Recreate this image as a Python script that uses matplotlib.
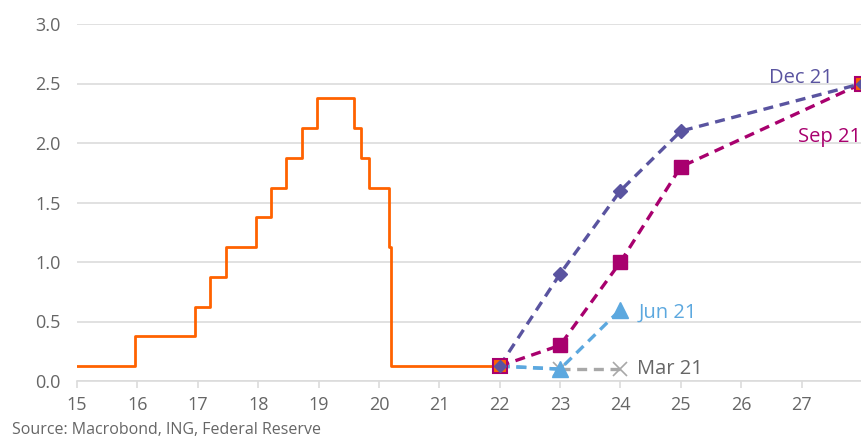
import numpy as np
import matplotlib
matplotlib.use("Agg")
import matplotlib.pyplot as plt

plt.rcParams["font.family"] = ["Open Sans", "DejaVu Sans"]

# Fed funds target midpoint (step changes), x in years since 2000
fed_x = [15.0, 15.96, 16.96, 17.21, 17.46, 17.96, 18.21, 18.46, 18.73, 18.97,
         19.58, 19.71, 19.83, 20.17, 20.2, 22.0]
fed_y = [0.125, 0.375, 0.625, 0.875, 1.125, 1.375, 1.625, 1.875, 2.125, 2.375,
         2.125, 1.875, 1.625, 1.125, 0.125, 0.125]

# FOMC median dot projections
dec_x = [22, 23, 24, 25, 28]
dec_y = [0.125, 0.9, 1.6, 2.1, 2.5]
sep_x = [22, 23, 24, 25, 28]
sep_y = [0.125, 0.3, 1.0, 1.8, 2.5]
jun_x = [22, 23, 24]
jun_y = [0.125, 0.1, 0.6]
mar_x = [23, 24]
mar_y = [0.1, 0.1]

ORANGE = "#FF6200"
PURPLE = "#5A54A0"
MAGENTA = "#A8006E"
BLUE = "#5CA8DF"
GREY = "#A8A8A8"
TEXT = "#666666"

fig = plt.figure(figsize=(8.62, 4.38), dpi=100)
ax = fig.add_axes([77 / 862, 57 / 438, 1 - 77 / 862, (381 - 24) / 438])

ax.step(fed_x, fed_y, where="post", color=ORANGE, lw=2, zorder=3)

dash = (0, (3, 2))
ax.plot(mar_x, mar_y, color=GREY, lw=2.4, ls=dash, marker="x", ms=10,
        mew=1.2, zorder=4)
ax.plot([22, 23], [0.125, 0.1], color=BLUE, lw=2.4, ls=dash, zorder=4)
ax.plot(jun_x, jun_y, color=BLUE, lw=2.4, ls=dash, marker="^", ms=11,
        markevery=[1, 2], zorder=5)
ax.plot(sep_x, sep_y, color=MAGENTA, lw=2.4, ls=dash, marker="s", ms=10,
        markevery=[1, 2, 3], zorder=5)
ax.plot(dec_x, dec_y, color=PURPLE, lw=2.4, ls=dash, marker="D", ms=7.5,
        markevery=[1, 2, 3], zorder=6)

# current / longer-run points
ax.plot([22, 28], [0.125, 2.5], ls="none", marker="s", ms=10, mfc=ORANGE,
        mec=MAGENTA, mew=1.5, zorder=7, clip_on=False)
ax.plot([22, 28], [0.125, 2.5], ls="none", marker="D", ms=6, color=PURPLE,
        zorder=8, clip_on=False)

ax.text(27.52, 2.55, "Dec 21", color=PURPLE, fontsize=14.5, ha="right", va="center")
ax.text(27.98, 2.05, "Sep 21", color=MAGENTA, fontsize=14.5, ha="right", va="center")
ax.text(24.3, 0.57, "Jun 21", color=BLUE, fontsize=14.5, ha="left", va="center")
ax.text(24.27, 0.1, "Mar 21", color=TEXT, fontsize=14.5, ha="left", va="center")

ax.set_xlim(15, 28)
ax.set_ylim(0, 3)
ax.set_xticks(range(15, 28))
ax.set_yticks(np.arange(0, 3.01, 0.5))
ax.yaxis.set_major_formatter(matplotlib.ticker.FormatStrFormatter("%.1f"))
ax.grid(axis="y", color="#DCDCDC", lw=1.2)
ax.set_axisbelow(True)
for s in ["top", "right", "left"]:
    ax.spines[s].set_visible(False)
ax.spines["bottom"].set_color("#DCDCDC")
ax.spines["bottom"].set_linewidth(1.2)
ax.tick_params(axis="x", colors="#DCDCDC", length=5, width=1.2, labelcolor=TEXT,
               labelsize=13, pad=6)
ax.tick_params(axis="y", length=0, labelcolor=TEXT, labelsize=13, pad=12)

fig.text(12 / 862, 1 - 430 / 438, "Source: Macrobond, ING, Federal Reserve",
         color=TEXT, fontsize=11.5, ha="left", va="center")

fig.savefig("out.png", dpi=100)
